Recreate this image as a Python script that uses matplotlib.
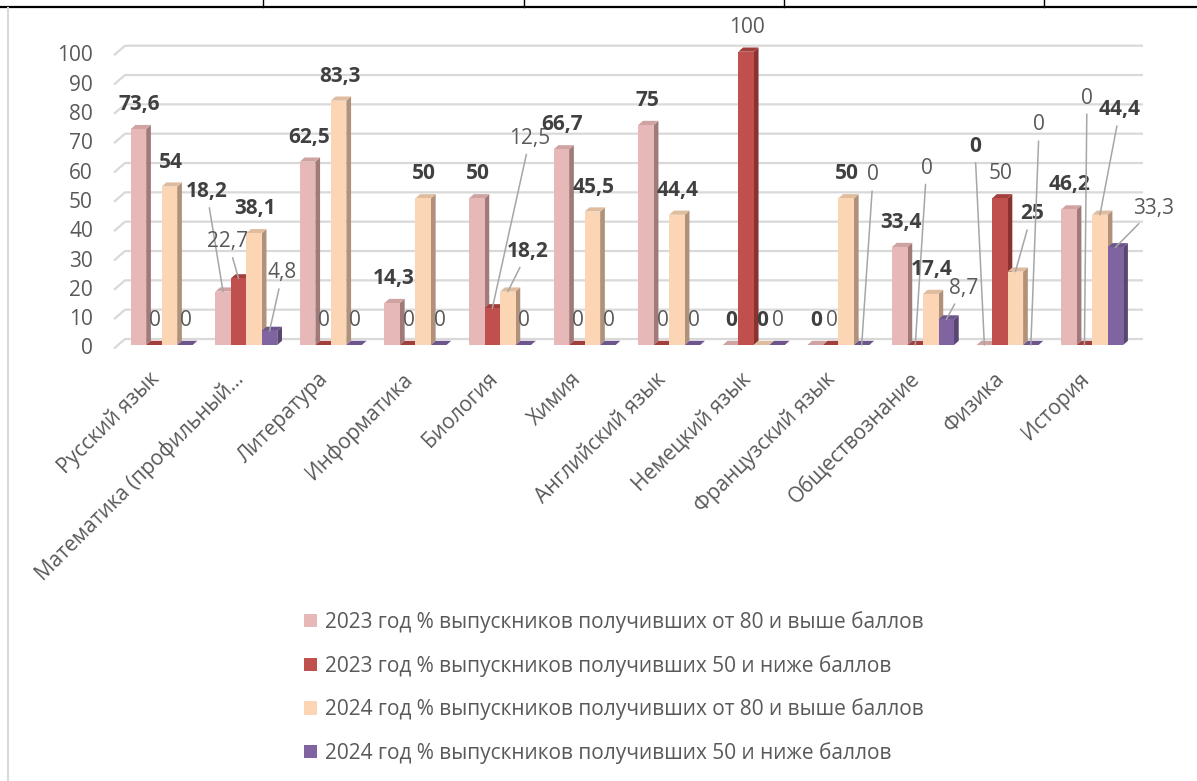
import matplotlib
matplotlib.use('Agg')
import matplotlib.pyplot as plt
from matplotlib.patches import Polygon, Patch
from matplotlib.lines import Line2D

# ---------------- data ----------------
categories = ['Русский язык', 'Математика (профильный…', 'Литература', 'Информатика',
              'Биология', 'Химия', 'Английский язык', 'Немецкий язык',
              'Французский язык', 'Обществознание', 'Физика', 'История']
series_names = ['2023 год % выпускников получивших от 80 и выше баллов',
                '2023 год % выпускников получивших 50 и ниже баллов',
                '2024 год % выпускников получивших от 80 и выше баллов',
                '2024 год % выпускников получивших 50 и ниже баллов']
s2023_high = [73.6, 18.2, 62.5, 14.3, 50, 66.7, 75, 0, 0, 33.4, 0, 46.2]
s2023_low = [0, 22.7, 0, 0, 12.5, 0, 0, 100, 0, 0, 50, 0]
s2024_high = [54, 38.1, 83.3, 50, 18.2, 45.5, 44.4, 0, 50, 17.4, 25, 44.4]
s2024_low = [0, 4.8, 0, 0, 0, 0, 0, 0, 0, 8.7, 0, 33.3]
y_ticks = [0, 10, 20, 30, 40, 50, 60, 70, 80, 90, 100]
series = [s2023_high, s2023_low, s2024_high, s2024_low]

# ---------------- style ----------------
front_c = ['#E6B9B8', '#C0504D', '#FCD5B5', '#8064A2']
side_c = ['#A07A79', '#8A3230', '#B0917A', '#594672']
top_c = ['#CFA3A2', '#A13F3C', '#E0BC9F', '#6D568C']
bold_series = [True, False, True, False]
FONT = 'Open Sans'
FS = 15

W, H = 1197, 781
fig = plt.figure(figsize=(W / 100, H / 100), dpi=100)
fig.patch.set_facecolor('white')

x_left_px, x_right_px = 119.4, 1134.5
y_bot_px, y_top_px = 345.0, 51.7
ax = fig.add_axes([x_left_px / W, 1 - y_bot_px / H,
                   (x_right_px - x_left_px) / W, (y_bot_px - y_top_px) / H])
ax.set_xlim(-0.5, len(categories) - 0.5)
ax.set_ylim(0, 100)
ax.axis('off')

pxx = (x_right_px - x_left_px) / len(categories)   # px per x unit
pxy = (y_bot_px - y_top_px) / 100.0                # px per y unit

bw = 15.5 / pxx          # bar front width
ddx = 4.7 / pxx          # depth offset x
ddy = 4.2 / pxy          # depth offset y

# gridlines (back wall, with perspective stub on the left)
g_off = 6.0 / pxy
for v in y_ticks:
    xs = [(114 - 161.7) / pxx, (125 - 161.7) / pxx, (1143 - 161.7) / pxx]
    ys = [v - 3.5 / pxy, v + g_off, v + g_off]
    ax.plot(xs, ys, color='#D9D9D9', lw=1.6, clip_on=False, zorder=1,
            solid_capstyle='butt')
    ax.text((93 - 161.7) / pxx, v - 4.0 / pxy, f'{v}', ha='right', va='center',
            fontsize=FS, color='#595959', family=FONT, clip_on=False)

# bars with 3D look
z = 3
for i in range(len(categories)):
    for j, vals in enumerate(series):
        v = vals[i]
        x0 = i + (j - 2) * bw
        x1 = x0 + bw
        side = Polygon([(x1, 0), (x1 + ddx, ddy), (x1 + ddx, v + ddy), (x1, v)],
                       closed=True, facecolor=side_c[j], edgecolor='none',
                       zorder=z, clip_on=False)
        top = Polygon([(x0, v), (x1, v), (x1 + ddx, v + ddy), (x0 + ddx, v + ddy)],
                      closed=True, facecolor=top_c[j], edgecolor='none',
                      zorder=z + 0.1, clip_on=False)
        front = Polygon([(x0, 0), (x1, 0), (x1, v), (x0, v)], closed=True,
                        facecolor=front_c[j], edgecolor='none', zorder=z + 0.2,
                        clip_on=False)
        ax.add_patch(side)
        ax.add_patch(top)
        ax.add_patch(front)
        z += 0.3

# value labels
def fmt(v):
    return f'{v:g}'.replace('.', ',')

leader = {(1, 0): (-16.3, 99.9), (1, 1): (-10.5, 36.7), (1, 3): (13, 58),
          (4, 1): (37.6, 170), (4, 2): (20, 40), (8, 3): (11.5, 170),
          (9, 1): (11.3, 176.7), (9, 3): (17, 31.2), (10, 0): (-9.5, 198.3),
          (10, 2): (16.3, 57.7), (10, 3): (8.3, 220), (11, 1): (2.5, 247),
          (11, 2): (20, 104.8), (11, 3): (38.5, 39)}

for i in range(len(categories)):
    for j, vals in enumerate(series):
        v = vals[i]
        xc = i + (j - 1.5) * bw
        kw = dict(ha='center', va='center', fontsize=FS, family=FONT,
                  fontweight='bold' if bold_series[j] else 'normal',
                  color='#404040' if bold_series[j] else '#595959',
                  annotation_clip=False, zorder=50)
        if (i, j) in leader:
            off = leader[(i, j)]
            ax.annotate(fmt(v), xy=(xc, v), xytext=off, textcoords='offset pixels',
                        arrowprops=dict(arrowstyle='-', color='#A6A6A6', lw=1.1,
                                        shrinkA=2, shrinkB=0), **kw)
        else:
            ax.annotate(fmt(v), xy=(xc, v), xytext=(1, 24.5),
                        textcoords='offset pixels', **kw)

# category labels
for i, c in enumerate(categories):
    ax.text(i - 6 / pxx, -(376 - 345) / pxy, c, rotation=45, rotation_mode='anchor',
            ha='right', va='center', fontsize=FS, color='#595959', family=FONT,
            clip_on=False)

# legend
handles = [Patch(facecolor=front_c[j], edgecolor='none') for j in range(4)]
fig.legend(handles, series_names, loc='upper left',
           bbox_to_anchor=(304 / W, 1 - 611 / H), frameon=False,
           prop={'family': FONT, 'size': FS}, labelcolor='#595959',
           handlelength=0.6, handleheight=0.6, handletextpad=0.4,
           labelspacing=1.05, borderpad=0, borderaxespad=0)

# surrounding table borders
fig.add_artist(Line2D([0, 1], [1 - 6.5 / H, 1 - 6.5 / H], color='black', lw=1.6,
                      transform=fig.transFigure))
for xv in [263, 524, 784, 1044]:
    fig.add_artist(Line2D([xv / W, xv / W], [1, 1 - 6.5 / H], color='black', lw=1.0,
                          transform=fig.transFigure))
fig.add_artist(Line2D([8 / W, 8 / W], [0, 1 - 8 / H], color='#D9D9D9', lw=1.5,
                      transform=fig.transFigure))

fig.savefig('out.png', dpi=100, facecolor='white')
